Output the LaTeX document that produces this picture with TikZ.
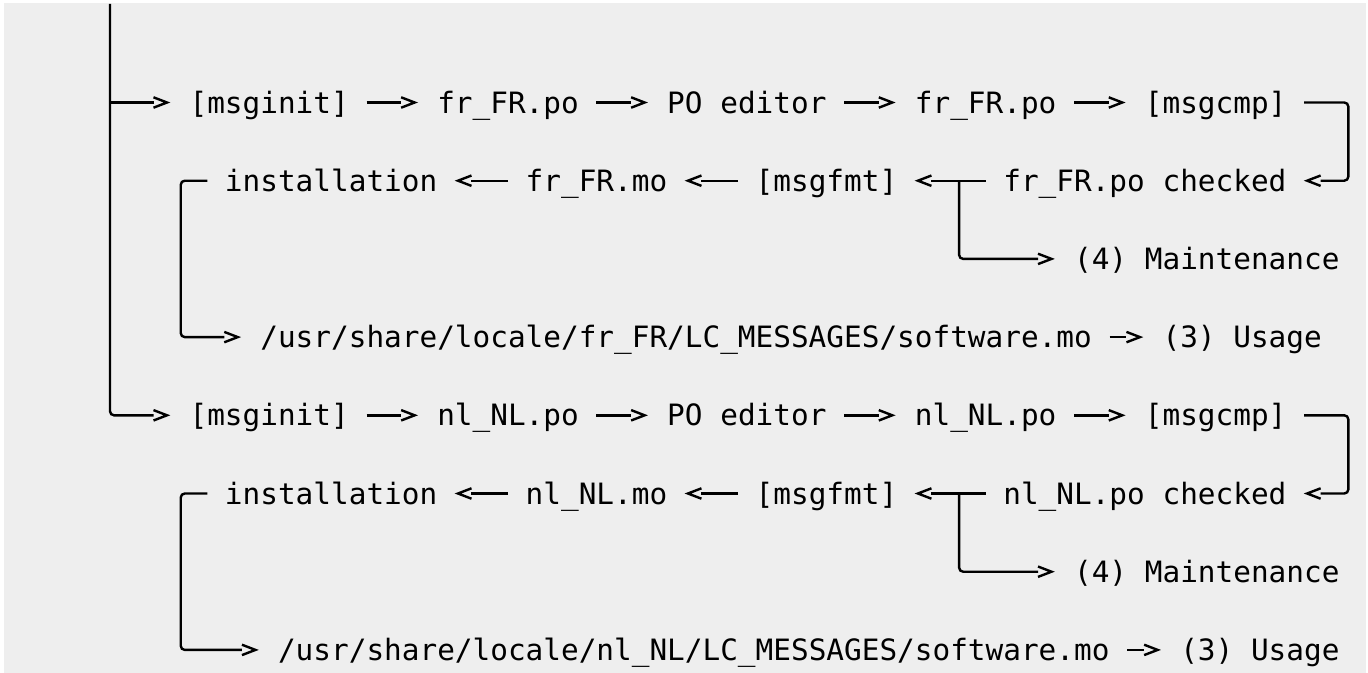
\documentclass[tikz,border=0pt]{standalone}
\usepackage{fontspec}
\usetikzlibrary{arrows.meta}
\newfontfamily\mono{DejaVu Sans Mono}
\definecolor{pagebg}{HTML}{EEEEEE}

% open chevron head: the line stops at the open side of the ">"
\pgfdeclarearrow{
  name = chev,
  setup code = {
    \pgfarrowssettipend{0pt}
    \pgfarrowssetlineend{-13.5bp}
    \pgfarrowssetvisualbackend{-13.5bp}
    \pgfarrowssetbackend{-13.5bp}
    \pgfarrowshullpoint{0pt}{0pt}
    \pgfarrowshullpoint{-13.5bp}{5.2bp}
    \pgfarrowshullpoint{-13.5bp}{-5.2bp}
  },
  drawing code = {
    \pgfsetdash{}{0pt}
    \pgfsetmiterjoin
    \pgfpathmoveto{\pgfqpoint{-13.5bp}{5.2bp}}
    \pgfpathlineto{\pgfqpoint{0pt}{0pt}}
    \pgfpathlineto{\pgfqpoint{-13.5bp}{-5.2bp}}
    \pgfusepathqstroke
  }
}

% one character cell, and the gap from a label to the tip of an arrow at it
\def\cw{17.69bp}
\def\tgR{22.6bp}
\def\tgL{20.7bp}

\tikzset{
  lbl/.style={font={\mono\fontsize{29.385bp}{39.1bp}\selectfont}, inner sep=0pt, outer sep=0pt,
    anchor=west, text height=30bp, text depth=8.8bp},
  wire/.style={line width=2.4bp, rounded corners=4bp},
  arr/.style={wire, -{chev}},
}

\begin{document}
\begin{tikzpicture}[x=17.69bp, y=-39.1bp]
\useasboundingbox (-6.2182,-0.6215) rectangle (71.1136,16.5908);
\fill[white] (-6.2182,-0.6215) rectangle (71.1136,16.5908);
\fill[pagebg] (-5.9921,-0.5448) rectangle (71.0006,16.5908);

% ---- fr_FR ----
\node[lbl] (fInit)  at (4.5,2)  {[msginit]};
\node[lbl] (fPoA)   at (18.5,2) {fr\_FR.po};
\node[lbl] (fEdit)  at (31.5,2) {PO editor};
\node[lbl] (fPoB)   at (45.5,2) {fr\_FR.po};
\node[lbl] (fCmp)   at (58.5,2) {[msgcmp]};
\node[lbl] (fInst)  at (6.5,4)  {installation};
\node[lbl] (fMo)    at (23.5,4) {fr\_FR.mo};
\node[lbl] (fFmt)   at (36.5,4) {[msgfmt]};
\node[lbl] (fChk)   at (50.5,4) {fr\_FR.po checked};
\node[lbl] (fMaint) at (54.5,6) {(4) Maintenance};
\node[lbl] (fPath)  at (8.5,8)  {/usr/share/locale/fr\_FR/LC\_MESSAGES/software.mo};
\node[lbl] (fUse)   at (59.5,8) {(3) Usage};

% ---- nl_NL ----
\node[lbl] (nInit)  at (4.5,10)  {[msginit]};
\node[lbl] (nPoA)   at (18.5,10) {nl\_NL.po};
\node[lbl] (nEdit)  at (31.5,10) {PO editor};
\node[lbl] (nPoB)   at (45.5,10) {nl\_NL.po};
\node[lbl] (nCmp)   at (58.5,10) {[msgcmp]};
\node[lbl] (nInst)  at (6.5,12)  {installation};
\node[lbl] (nMo)    at (23.5,12) {nl\_NL.mo};
\node[lbl] (nFmt)   at (36.5,12) {[msgfmt]};
\node[lbl] (nChk)   at (50.5,12) {nl\_NL.po checked};
\node[lbl] (nMaint) at (54.5,14) {(4) Maintenance};
\node[lbl] (nPath)  at (9.5,16)  {/usr/share/locale/nl\_NL/LC\_MESSAGES/software.mo};
\node[lbl] (nUse)   at (60.5,16) {(3) Usage};

% bend points
\coordinate (trunkTop) at (0,-0.52);
\coordinate (fBranch)  at (0,2);
\coordinate (fTurn)    at (70,2);
\coordinate (fFork)    at (48,4);
\coordinate (fDrop)    at (4,4);
\coordinate (nTurn)    at (70,10);
\coordinate (nFork)    at (48,12);
\coordinate (nDrop)    at (4,12);

% main trunk
\draw[arr] (trunkTop) |- ([xshift=-\tgR]nInit.west);
\draw[arr] (fBranch) -- ([xshift=-\tgR]fInit.west);

% fr_FR chain
\draw[arr] ([xshift=\cw]fInit.east) -- ([xshift=-\tgR]fPoA.west);
\draw[arr] ([xshift=\cw]fPoA.east)  -- ([xshift=-\tgR]fEdit.west);
\draw[arr] ([xshift=\cw]fEdit.east) -- ([xshift=-\tgR]fPoB.west);
\draw[arr] ([xshift=\cw]fPoB.east)  -- ([xshift=-\tgR]fCmp.west);
\draw[arr] ([xshift=\cw]fCmp.east) -- (fTurn) |- ([xshift=\tgL]fChk.east);
\draw[arr] ([xshift=-\cw]fChk.west) -- ([xshift=\tgL]fFmt.east);
\draw[arr] (fFork) |- ([xshift=-\tgR]fMaint.west);
\draw[arr] ([xshift=-\cw]fFmt.west) -- ([xshift=\tgL]fMo.east);
\draw[arr] ([xshift=-\cw]fMo.west)  -- ([xshift=\tgL]fInst.east);
\draw[arr] ([xshift=-\cw]fInst.west) -- (fDrop) |- ([xshift=-\tgR]fPath.west);
\draw[arr] ([xshift=\cw]fPath.east) -- ([xshift=-\tgR]fUse.west);

% nl_NL chain
\draw[arr] ([xshift=\cw]nInit.east) -- ([xshift=-\tgR]nPoA.west);
\draw[arr] ([xshift=\cw]nPoA.east)  -- ([xshift=-\tgR]nEdit.west);
\draw[arr] ([xshift=\cw]nEdit.east) -- ([xshift=-\tgR]nPoB.west);
\draw[arr] ([xshift=\cw]nPoB.east)  -- ([xshift=-\tgR]nCmp.west);
\draw[arr] ([xshift=\cw]nCmp.east) -- (nTurn) |- ([xshift=\tgL]nChk.east);
\draw[arr] ([xshift=-\cw]nChk.west) -- ([xshift=\tgL]nFmt.east);
\draw[arr] (nFork) |- ([xshift=-\tgR]nMaint.west);
\draw[arr] ([xshift=-\cw]nFmt.west) -- ([xshift=\tgL]nMo.east);
\draw[arr] ([xshift=-\cw]nMo.west)  -- ([xshift=\tgL]nInst.east);
\draw[arr] ([xshift=-\cw]nInst.west) -- (nDrop) |- ([xshift=-\tgR]nPath.west);
\draw[arr] ([xshift=\cw]nPath.east) -- ([xshift=-\tgR]nUse.west);
\end{tikzpicture}
\end{document}
